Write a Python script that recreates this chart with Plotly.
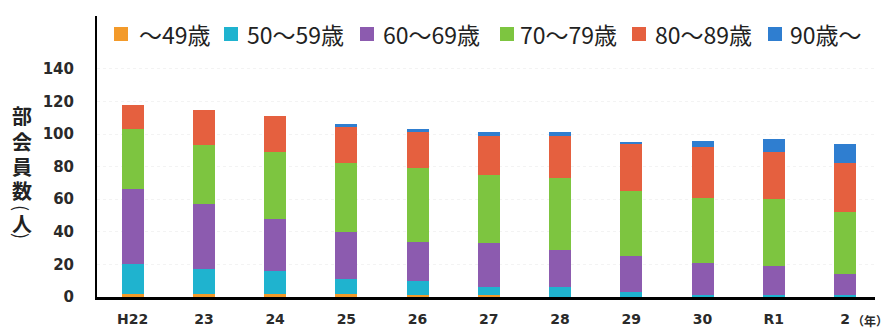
import plotly.graph_objects as go

years = ["H22", "23", "24", "25", "26", "27", "28", "29", "30", "R1", "2"]
series_names = ["～49歳", "50～59歳", "60～69歳", "70～79歳", "80～89歳", "90歳～"]
age_u49 = [2, 2, 2, 2, 1, 1, 0, 0, 0, 0, 0]
age_50s = [18, 15, 14, 9, 9, 5, 6, 3, 1, 1, 1]
age_60s = [46, 40, 32, 29, 24, 27, 23, 22, 20, 18, 13]
age_70s = [37, 36, 41, 42, 45, 42, 44, 40, 40, 41, 38]
age_80s = [15, 22, 22, 22, 22, 24, 26, 29, 31, 29, 30]
age_90p = [0, 0, 0, 2, 2, 2, 2, 1, 4, 8, 12]
y_ticks = [0, 20, 40, 60, 80, 100, 120, 140]
y_title_chars = ["部", "会", "員", "数", "(", "人", ")"]

colors = ["#F39A2A", "#1FB3CF", "#8C5BAF", "#7DC540", "#E5603F", "#2F7ED0"]
values = [age_u49, age_50s, age_60s, age_70s, age_80s, age_90p]

# layout geometry (pixels)
W, H = 892, 329
ML, MR, MT, MB = 97, 17, 16, 32
PW, PH = W - ML - MR, H - MT - MB


def px_to_paper_x(px):
    return (px - ML) / PW


def px_to_paper_y(py):
    return (H - MB - py) / PH


fig = go.Figure()
for name, vals, col in zip(series_names, values, colors):
    fig.add_trace(go.Bar(x=years, y=vals, name=name, marker=dict(color=col, line=dict(width=0)),
                         width=0.31, showlegend=False))

tick_font = dict(family="DejaVu Sans", size=15, color="#2a2a2a", weight="bold")

fig.update_layout(
    barmode="stack",
    width=W, height=H,
    margin=dict(l=ML, r=MR, t=MT, b=MB, autoexpand=False),
    paper_bgcolor="white", plot_bgcolor="white",
    xaxis=dict(type="category", range=[-0.5, 10.42], showline=True, linecolor="black", linewidth=2.5,
               ticks="", ticklabelstandoff=7, tickfont=dict(family="DejaVu Sans", size=14, color="#2a2a2a", weight="bold"),
               showgrid=False, zeroline=False, automargin=False),
    yaxis=dict(range=[0, 172.4], tickvals=y_ticks, showline=True, linecolor="black", linewidth=2,
               ticks="", ticklabelstandoff=18, tickfont=tick_font, automargin=False,
               showgrid=True, gridcolor="#f3f3f3", griddash="dot", gridwidth=1, zeroline=False),
)

# manual legend (larger swatches as in the reference)
legend_sq_x = [114, 224, 360, 500, 632, 768]
legend_txt_x = [137, 245, 381, 518, 653, 788]
leg_y = 34
for name, col, sx, tx in zip(series_names, colors, legend_sq_x, legend_txt_x):
    fig.add_shape(type="rect", xref="paper", yref="paper",
                  x0=px_to_paper_x(sx), x1=px_to_paper_x(sx + 14),
                  y0=px_to_paper_y(leg_y + 7), y1=px_to_paper_y(leg_y - 7),
                  fillcolor=col, line=dict(width=0))
    fig.add_annotation(text=name, xref="paper", yref="paper", x=px_to_paper_x(tx), y=px_to_paper_y(leg_y),
                       xanchor="left", yanchor="middle", showarrow=False,
                       font=dict(family="Noto Sans CJK JP", size=23, color="#222222"))

# vertical y-axis title
title_y = [115, 141, 166, 190, 208, 223, 236]
for ch, cy in zip(y_title_chars, title_y):
    is_paren = ch in "()"
    fig.add_annotation(text=ch, xref="paper", yref="paper", x=px_to_paper_x(22), y=px_to_paper_y(cy),
                       xanchor="center", yanchor="middle", showarrow=False,
                       textangle=90 if is_paren else 0,
                       font=dict(family="Noto Sans CJK JP", size=18 if is_paren else 20, color="#222222",
                                 weight="normal" if is_paren else "bold"))

fig.add_annotation(text="（年）", xref="paper", yref="paper", x=px_to_paper_x(890), y=px_to_paper_y(320),
                   xanchor="right", yanchor="middle", showarrow=False,
                   font=dict(family="Noto Sans CJK JP", size=12, color="#2a2a2a", weight="bold"))

fig.write_html("out.html")
